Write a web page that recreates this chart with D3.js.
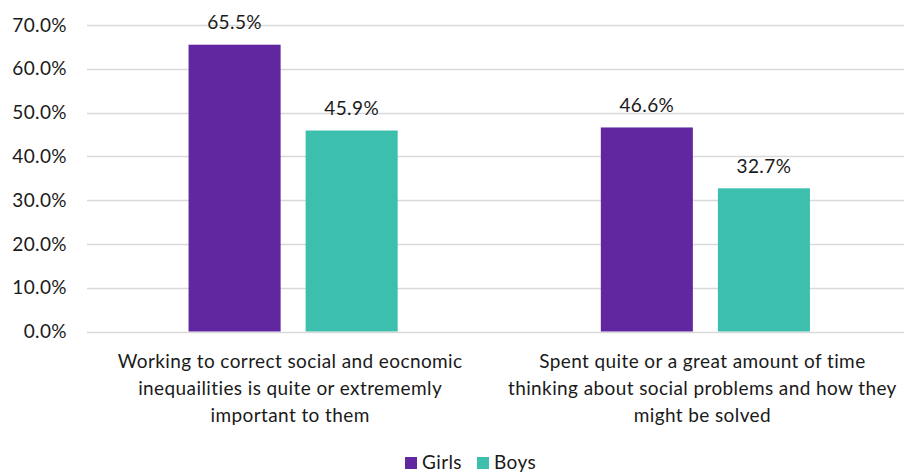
<!DOCTYPE html>
<html>
<head>
<meta charset="utf-8">
<script src="https://cdn.jsdelivr.net/npm/d3@7"></script>
<style>
  html, body { margin: 0; padding: 0; background: #fff; }
  svg { display: block; font-family: Lato, "Open Sans", sans-serif; }
  svg text { letter-spacing: 0.4px; }
</style>
</head>
<body>
<svg id="chart" width="904" height="473"></svg>
<script>
const categories = [
  ["Working to correct social and eocnomic", "inequailities is quite or extrememly", "important to them"],
  ["Spent quite or a great amount of time", "thinking about social problems and how they", "might be solved"]
];
const seriesNames = ["Girls", "Boys"];
const girls = [65.5, 46.6];
const boys = [45.9, 32.7];
const yTicks = [0, 10, 20, 30, 40, 50, 60, 70];
const colors = ["#6027A1", "#3DBFAE"];

(function () {
const svg = d3.select("#chart");
const pLeft = 87, pRight = 911.5, pTop = 25, pBottom = 331.5;
const fontSize = 19;

const x0 = d3.scaleBand().domain(d3.range(categories.length)).range([pLeft, pRight]).paddingInner(0).paddingOuter(0);
const x1 = d3.scaleBand().domain(seriesNames).range([0, x0.bandwidth()]).paddingInner(25 / 117).paddingOuter(101.5 / 117);
const y = d3.scaleLinear().domain([0, 70]).range([pBottom, pTop]);

// gridlines
svg.append("g").selectAll("line").data(yTicks).join("line")
  .attr("x1", pLeft).attr("x2", pRight)
  .attr("y1", d => Math.round(y(d)) + 0.5).attr("y2", d => Math.round(y(d)) + 0.5)
  .attr("stroke", "#d9d9d9").attr("stroke-width", 1.3);

// y axis labels
const yAxis = d3.axisLeft(y).tickValues(yTicks).tickFormat(d => d.toFixed(1) + "%").tickSize(0).tickPadding(0);
const ya = svg.append("g").attr("transform", `translate(${67},0)`).call(yAxis);
ya.select(".domain").remove();
ya.selectAll("text").attr("font-size", fontSize).attr("font-family", "Lato, sans-serif").attr("fill", "#1a1a1a");

const data = categories.map((c, i) => ({ i, vals: [girls[i], boys[i]] }));

const groups = svg.append("g").selectAll("g").data(data).join("g")
  .attr("transform", d => `translate(${x0(d.i)},0)`);

groups.selectAll("rect").data(d => d.vals.map((v, k) => ({ v, k }))).join("rect")
  .attr("x", d => x1(seriesNames[d.k]))
  .attr("width", x1.bandwidth())
  .attr("y", d => y(d.v))
  .attr("height", d => y(0) - y(d.v))
  .attr("fill", d => colors[d.k]);

groups.selectAll("text.val").data(d => d.vals.map((v, k) => ({ v, k }))).join("text")
  .attr("class", "val")
  .attr("x", d => x1(seriesNames[d.k]) + x1.bandwidth() / 2)
  .attr("y", d => y(d.v) - 15.5)
  .attr("text-anchor", "middle")
  .attr("font-size", fontSize)
  .attr("fill", "#1a1a1a")
  .text(d => d.v.toFixed(1) + "%");

// category labels
const catG = svg.append("g");
categories.forEach((lines, i) => {
  const cx = x0(i) + x0.bandwidth() / 2 - 3;
  const t = catG.append("text").attr("text-anchor", "middle").attr("font-size", fontSize).attr("fill", "#1a1a1a");
  lines.forEach((ln, j) => {
    t.append("tspan").attr("x", cx).attr("y", 368 + j * 27).text(ln);
  });
});

// legend
const legend = svg.append("g");
const lx = [405, 477];
seriesNames.forEach((s, k) => {
  legend.append("rect").attr("x", lx[k]).attr("y", 457).attr("width", 12).attr("height", 12).attr("fill", colors[k]);
  legend.append("text").attr("x", lx[k] + 17).attr("y", 469).attr("font-size", fontSize).attr("fill", "#1a1a1a").text(s);
});
})();
</script>
</body>
</html>
